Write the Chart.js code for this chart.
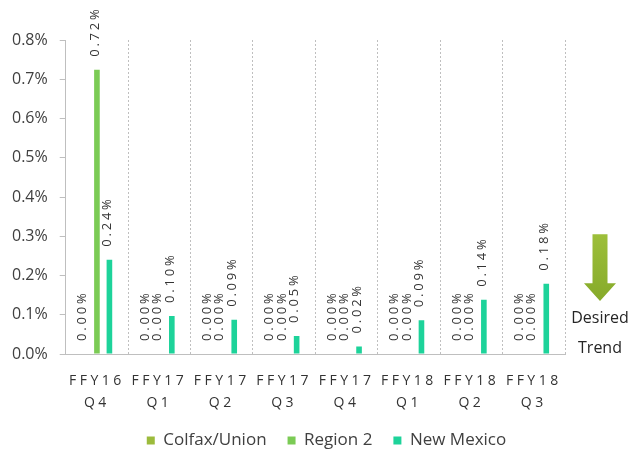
<!DOCTYPE html>
<html>
<head>
<meta charset="utf-8">
<script src="https://cdn.jsdelivr.net/npm/chart.js@4.4.1/dist/chart.umd.min.js"></script>
<style>
html,body{margin:0;padding:0;background:#fff;}
#wrap{width:633px;height:455px;position:relative;}
</style>
</head>
<body>
<div id="wrap"><canvas id="c" width="633" height="455"></canvas></div>
<script>
const categories = [['FFY16','Q4'],['FFY17','Q1'],['FFY17','Q2'],['FFY17','Q3'],['FFY17','Q4'],['FFY18','Q1'],['FFY18','Q2'],['FFY18','Q3']];
const colfaxUnion = [0, 0, 0, 0, 0, 0, 0, 0];
const region2 = [0.724, 0, 0, 0, 0, 0, 0, 0];
const newMexico = [0.24, 0.097, 0.087, 0.046, 0.019, 0.086, 0.138, 0.179];
const yTicks = [0, 0.1, 0.2, 0.3, 0.4, 0.5, 0.6, 0.7, 0.8];
const annotationLines = ['Desired', 'Trend'];

const FONT = "'Open Sans', 'DejaVu Sans', sans-serif";

const layoutTweaks = {
  id: 'layoutTweaks',
  afterLayout(chart) {
    const sx = chart.scales.x;
    if (sx && !sx._spacedPatched) {
      const orig = sx.drawLabels.bind(sx);
      sx.drawLabels = function(area) {
        const ctx = chart.ctx;
        ctx.save();
        ctx.letterSpacing = '3.5px';
        orig(area);
        ctx.restore();
      };
      sx._spacedPatched = true;
    }
    if (chart.legend) {
      chart.legend.left += 20;
    }
  }
};

const dataLabelPlugin = {
  id: 'barValueLabels',
  afterDatasetsDraw(chart) {
    const ctx = chart.ctx;
    ctx.save();
    ctx.font = "13px " + FONT;
    ctx.letterSpacing = '2.8px';
    ctx.fillStyle = '#333333';
    ctx.textAlign = 'left';
    ctx.textBaseline = 'middle';
    chart.data.datasets.forEach((ds, di) => {
      const meta = chart.getDatasetMeta(di);
      meta.data.forEach((bar, i) => {
        const v = ds.data[i];
        ctx.save();
        ctx.translate(bar.x - 2, bar.y - 13);
        ctx.rotate(-Math.PI / 2);
        ctx.fillText(v.toFixed(2) + '%', 0, 0);
        ctx.restore();
      });
    });
    ctx.restore();
  }
};

const arrowPlugin = {
  id: 'desiredTrend',
  afterDraw(chart) {
    const ctx = chart.ctx;
    const ys = chart.scales.y;
    const cx = chart.chartArea.right + 35;
    const top = ys.getPixelForValue(0.305);
    const neck = ys.getPixelForValue(0.18);
    const tip = ys.getPixelForValue(0.135);
    ctx.save();
    const g = ctx.createLinearGradient(0, top, 0, tip);
    g.addColorStop(0, '#9DBF3A');
    g.addColorStop(1, '#86AA2A');
    ctx.fillStyle = g;
    ctx.beginPath();
    ctx.moveTo(cx - 7.5, top);
    ctx.lineTo(cx + 7.5, top);
    ctx.lineTo(cx + 7.5, neck);
    ctx.lineTo(cx + 16, neck);
    ctx.lineTo(cx, tip);
    ctx.lineTo(cx - 16, neck);
    ctx.lineTo(cx - 7.5, neck);
    ctx.closePath();
    ctx.fill();
    ctx.font = "16px " + FONT;
    ctx.fillStyle = '#262626';
    ctx.textAlign = 'center';
    ctx.textBaseline = 'middle';
    ctx.fillText(annotationLines[0], cx, ys.getPixelForValue(0.09));
    ctx.fillText(annotationLines[1], cx, ys.getPixelForValue(0.015));
    ctx.restore();
  }
};

new Chart(document.getElementById('c'), {
  type: 'bar',
  data: {
    labels: categories,
    datasets: [
      {label: 'Colfax/Union', data: colfaxUnion, backgroundColor: '#9CBB3C', borderWidth: 0},
      {label: 'Region 2', data: region2, backgroundColor: '#7BCB55', borderWidth: 0},
      {label: 'New Mexico', data: newMexico, backgroundColor: '#1DD39A', borderWidth: 0}
    ]
  },
  options: {
    responsive: false,
    animation: false,
    devicePixelRatio: 1,
    layout: {padding: {top: 40, left: 0, right: 0, bottom: -4}},
    datasets: {bar: {categoryPercentage: 0.6, barPercentage: 0.45}},
    plugins: {
      legend: {
        position: 'bottom',
        labels: {
          font: {family: FONT, size: 17},
          color: '#404040',
          boxWidth: 8,
          boxHeight: 8,
          padding: 21
        }
      },
      tooltip: {enabled: false}
    },
    scales: {
      x: {
        grid: {display: true, offset: true, drawTicks: false, tickLength: 0, color: '#BFBFBF'},
        border: {display: true, color: '#BFBFBF', dash: [2, 2]},
        ticks: {font: {family: FONT, size: 14, lineHeight: 1.58}, color: '#333333', padding: 16, maxRotation: 0, autoSkip: false},
        afterFit(scale) { scale.height = 57; }
      },
      y: {
        min: 0,
        max: 0.8,
        afterBuildTicks(scale) { scale.ticks = yTicks.map(v => ({value: v})); },
        grid: {drawOnChartArea: false, drawTicks: true, tickLength: 6, color: '#BFBFBF'},
        border: {display: true, color: '#BFBFBF', dash: [2, 2]},
        ticks: {font: {family: FONT, size: 16}, color: '#404040', padding: 12, callback: v => v.toFixed(1) + '%'}
      },
      y2: {
        position: 'right',
        display: true,
        grid: {display: false},
        border: {display: false},
        ticks: {display: false},
        afterFit(scale) { scale.width = 68; }
      }
    }
  },
  plugins: [layoutTweaks, dataLabelPlugin, arrowPlugin]
});
</script>
</body>
</html>
